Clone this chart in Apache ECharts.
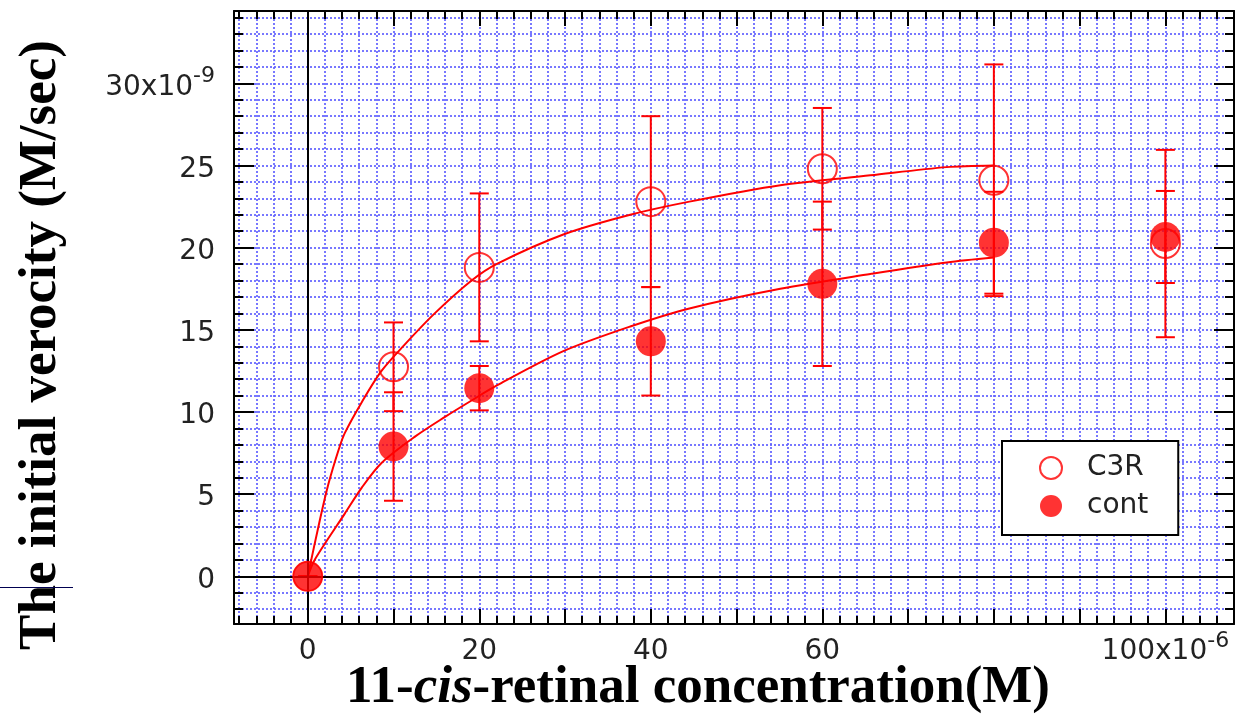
<!DOCTYPE html>
<html>
<head>
<meta charset="utf-8">
<script src="https://cdn.jsdelivr.net/npm/echarts@6/dist/echarts.min.js"></script>
<style>
  html, body { margin: 0; padding: 0; background: #fff; }
  #chart { width: 1236px; height: 714px; }
</style>
</head>
<body>
<div id="chart"></div>
<script>
// 11-cis-retinal concentration (x10^-6 M)
const concentrations = [0, 10, 20, 40, 60, 80, 100]
// initial velocity (x10^-9 M/sec): mean and error bar half-width
const c3rMean = [0, 12.75, 18.8, 22.8, 24.8, 24.1, 20.25]
const c3rErr = [0, 2.7, 4.5, 5.2, 3.7, 7.05, 5.7]
const contMean = [0, 7.9, 11.45, 14.3, 17.8, 20.3, 20.65]
const contErr = [0, 3.3, 1.35, 3.3, 5.0, 3.1, 2.8]

// fitted curves
const c3rFitX = [0, 1.4, 2.4, 3.6, 4.3, 6.3, 8.6, 11.3, 14.8, 19.1, 22, 29.8, 37.6, 44.5, 55.1, 65.6, 74.5, 80]
const c3rFitY = [0, 3.4, 5.6, 7.7, 8.7, 10.6, 12.5, 14.1, 16.0, 18.0, 19.0, 20.8, 22.0, 22.8, 23.8, 24.4, 24.9, 25.0]
const contFitX = [0, 0.8, 4.3, 6.3, 8.6, 12.5, 16, 19.1, 22, 29.8, 37.6, 44.5, 55.1, 65.6, 74.5, 80]
const contFitY = [0, 1.0, 3.8, 5.4, 6.9, 8.5, 9.7, 10.7, 11.6, 13.7, 15.2, 16.3, 17.5, 18.4, 19.1, 19.4]

// tick labels that are printed
const xLabelValues = [0, 20, 40, 60, 100]
const yLabelValues = [0, 5, 10, 15, 20, 25, 30]

const RED = '#ff0000'
const GRID_BLUE = '#6262ff'
const labelFont = '"DejaVu Sans", "Liberation Sans", sans-serif'

const zip = (xs, ys) => xs.map((x, i) => [x, ys[i]])
const errData = (mean, err) => concentrations.map((x, i) => [x, mean[i] - err[i], mean[i] + err[i]])

const near = (v, list) => list.find(t => Math.abs(v - t) < 1e-6)

const labelRich = {
  n: { fontSize: 28, fontFamily: labelFont, color: '#222', lineHeight: 36, verticalAlign: 'bottom' },
  s: { fontSize: 22, fontFamily: labelFont, color: '#222', verticalAlign: 'top' }
}

const gridLine = { show: true, lineStyle: { color: GRID_BLUE, type: [2, 2], width: 1.7 } }

function errorBars(params, api) {
  const x = api.value(0)
  const lo = api.coord([x, api.value(1)])
  const hi = api.coord([x, api.value(2)])
  const half = 9.5
  const style = { stroke: RED, lineWidth: 2 }
  return {
    type: 'group',
    children: [
      { type: 'line', shape: { x1: lo[0], y1: lo[1], x2: hi[0], y2: hi[1] }, style },
      { type: 'line', shape: { x1: lo[0] - half, y1: lo[1], x2: lo[0] + half, y2: lo[1] }, style },
      { type: 'line', shape: { x1: hi[0] - half, y1: hi[1], x2: hi[0] + half, y2: hi[1] }, style }
    ]
  }
}

const baseX = {
  type: 'value',
  min: -8.6,
  max: 108.0,
  splitNumber: 12,
  axisLine: { show: true, onZero: false, lineStyle: { color: '#000', width: 2 } },
  axisTick: { show: true, inside: true, length: 15, lineStyle: { color: '#000', width: 2 } },
  minorTick: { show: true, splitNumber: 5, length: 8, lineStyle: { color: '#000', width: 2 } }
}
const baseY = {
  type: 'value',
  min: -2.9,
  max: 34.4,
  splitNumber: 7,
  axisLine: { show: true, onZero: false, lineStyle: { color: '#000', width: 2 } },
  axisTick: { show: true, inside: true, length: 20, lineStyle: { color: '#000', width: 2 } },
  minorTick: { show: true, splitNumber: 5, length: 9, lineStyle: { color: '#000', width: 2 } }
}

const chart = echarts.init(document.getElementById('chart'))

chart.setOption({
  animation: false,
  backgroundColor: '#fff',
  grid: { left: 234, right: 2, top: 11, bottom: 90, outerBoundsMode: 'none', containLabel: false },
  xAxis: [
    Object.assign({}, baseX, {
      position: 'bottom',
      splitLine: gridLine,
      minorSplitLine: gridLine,
      axisLabel: {
        margin: 6,
        rich: labelRich,
        formatter: v => {
          const t = near(v, xLabelValues)
          if (t === undefined) return ''
          return t === 100 ? '{n|100x10}{s|-6}' : '{n|' + t + '}'
        }
      }
    }),
    Object.assign({}, baseX, {
      position: 'top',
      splitLine: { show: false },
      axisLabel: { show: false }
    })
  ],
  yAxis: [
    Object.assign({}, baseY, {
      position: 'left',
      splitLine: gridLine,
      minorSplitLine: gridLine,
      axisLabel: {
        margin: 19,
        rich: labelRich,
        formatter: v => {
          const t = near(v, yLabelValues)
          if (t === undefined) return ''
          return t === 30 ? '{n|30x10}{s|-9}' : '{n|' + t + '}'
        }
      }
    }),
    Object.assign({}, baseY, {
      position: 'right',
      splitLine: { show: false },
      axisLabel: { show: false }
    })
  ],
  legend: {
    orient: 'vertical',
    left: 1002,
    top: 441,
    padding: [13, 30, 15, 37],
    itemGap: 10,
    itemWidth: 22,
    itemHeight: 22,
    borderColor: '#000',
    borderWidth: 2,
    backgroundColor: '#fff',
    textStyle: { fontSize: 28, fontFamily: labelFont, color: '#222', padding: [0, 0, 0, 20], lineHeight: 28 },
    data: [
      { name: 'C3R', icon: 'circle', itemStyle: { color: '#fff', borderColor: RED, borderWidth: 2 } },
      { name: 'cont', icon: 'circle', itemStyle: { color: RED } }
    ]
  },
  graphic: [
    {
      type: 'text',
      x: 41,
      y: 345,
      rotation: Math.PI / 2,
      style: {
        text: 'The initial verocity (M/sec)',
        fontFamily: '"Liberation Serif", "DejaVu Serif", serif',
        fontWeight: 'bold',
        fontSize: 53,
        fill: '#000',
        align: 'center',
        verticalAlign: 'middle'
      }
    },
    {
      type: 'text',
      x: 698,
      y: 688,
      style: {
        text: '{b|11-}{i|cis}{b|-retinal concentration(M)}',
        rich: {
          b: { fontFamily: '"Liberation Serif", serif', fontWeight: 'bold', fontSize: 53, fill: '#000' },
          i: { fontFamily: '"Liberation Serif", serif', fontWeight: 'bold', fontStyle: 'italic', fontSize: 53, fill: '#000' }
        },
        align: 'center',
        verticalAlign: 'middle'
      }
    },
    {
      type: 'line',
      shape: { x1: 0, y1: 587.5, x2: 73, y2: 587.5 },
      style: { stroke: '#000050', lineWidth: 1 }
    }
  ],
  series: [
    {
      name: 'zero',
      type: 'line',
      data: [],
      z: 1,
      silent: true,
      markLine: {
        silent: true,
        symbol: 'none',
        label: { show: false },
        lineStyle: { color: '#000', width: 2, type: 'solid' },
        data: [{ xAxis: 0 }, { yAxis: 0 }]
      }
    },
    {
      name: 'C3R fit',
      type: 'line',
      data: zip(c3rFitX, c3rFitY),
      showSymbol: false,
      smooth: 0.3,
      z: 3,
      lineStyle: { color: RED, width: 2 }
    },
    {
      name: 'cont fit',
      type: 'line',
      data: zip(contFitX, contFitY),
      showSymbol: false,
      smooth: 0.3,
      z: 3,
      lineStyle: { color: RED, width: 2 }
    },
    {
      name: 'C3R err',
      type: 'custom',
      renderItem: errorBars,
      encode: { x: 0, y: [1, 2] },
      data: errData(c3rMean, c3rErr),
      z: 3
    },
    {
      name: 'cont err',
      type: 'custom',
      renderItem: errorBars,
      encode: { x: 0, y: [1, 2] },
      data: errData(contMean, contErr),
      z: 3
    },
    {
      name: 'C3R',
      type: 'scatter',
      data: zip(concentrations, c3rMean),
      symbol: 'circle',
      symbolSize: 29,
      z: 5,
      itemStyle: { color: 'rgba(255,255,255,0)', borderColor: RED, borderWidth: 2 }
    },
    {
      name: 'cont',
      type: 'scatter',
      data: zip(concentrations, contMean),
      symbol: 'circle',
      symbolSize: 30,
      z: 6,
      itemStyle: { color: RED }
    }
  ]
})
</script>
</body>
</html>
